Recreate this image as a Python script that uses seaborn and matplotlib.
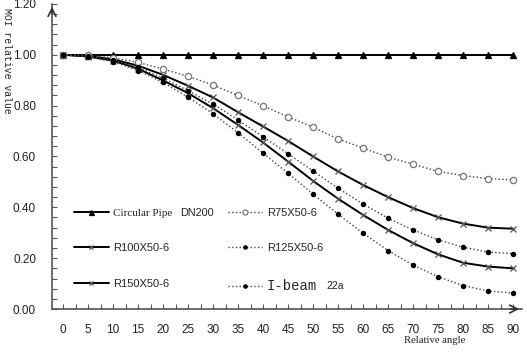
import matplotlib

matplotlib.use("Agg")

import matplotlib.pyplot as plt
import numpy as np
import pandas as pd
import seaborn as sns
from matplotlib.ticker import MultipleLocator


angles = [0, 5, 10, 15, 20, 25, 30, 35, 40, 45, 50, 55, 60, 65, 70, 75, 80, 85, 90]

circular_dn200 = [1.0] * 19
r75 = [1.0, 0.998, 0.988, 0.970, 0.944, 0.915, 0.881, 0.840, 0.799, 0.756, 0.715,
       0.669, 0.633, 0.597, 0.570, 0.541, 0.525, 0.513, 0.508]
r100 = [1.0, 0.995, 0.982, 0.957, 0.921, 0.878, 0.832, 0.774, 0.718, 0.661, 0.600,
        0.541, 0.488, 0.440, 0.397, 0.361, 0.336, 0.320, 0.316]
r125 = [1.0, 0.994, 0.979, 0.950, 0.908, 0.859, 0.806, 0.744, 0.677, 0.611, 0.543,
        0.475, 0.413, 0.357, 0.311, 0.272, 0.243, 0.224, 0.218]
r150 = [1.0, 0.993, 0.977, 0.945, 0.899, 0.849, 0.790, 0.724, 0.655, 0.580, 0.504,
        0.434, 0.370, 0.311, 0.259, 0.215, 0.182, 0.167, 0.160]
ibeam = [1.0, 0.992, 0.973, 0.938, 0.891, 0.833, 0.768, 0.693, 0.613, 0.534, 0.452,
         0.373, 0.298, 0.230, 0.173, 0.127, 0.092, 0.071, 0.063]

y_ticks = [0.0, 0.2, 0.4, 0.6, 0.8, 1.0, 1.2]

# legend fills column by column, so this order gives the 2x3 layout
series = [
    ("Circular Pipe", circular_dn200, "-", "^", "black", "black", 4.5),
    ("R100X50-6", r100, "-", "x", "#555555", "#555555", 4),
    ("R150X50-6", r150, "-", "x", "#555555", "#555555", 4),
    ("R75X50-6", r75, ":", "o", "#777777", "white", 4.5),
    ("R125X50-6", r125, ":", "o", "black", "black", 3),
    ("I-beam", ibeam, ":", "o", "black", "black", 3),
]

sns.set_style("white")
plt.rcParams["font.family"] = ["Liberation Sans", "DejaVu Sans"]

fig = plt.figure(figsize=(5.27, 3.54), dpi=100)
ax = fig.add_axes([0.0987, 0.127, 0.892, 0.862])

for name, values, ls, marker, mec, mfc, ms in series:
    df = pd.DataFrame({"angle": angles, "value": values})
    line_color = "black" if ls == "-" else "#444444"
    sns.lineplot(
        data=df, x="angle", y="value", ax=ax, label=name,
        color=line_color, linestyle=ls, linewidth=1.4 if ls == "-" else 1.0,
        marker=marker, markersize=ms, markeredgecolor=mec,
        markerfacecolor=mfc, markeredgewidth=0.9, clip_on=False,
    )

ax.set_xlim(-2.2, 91.8)
ax.set_ylim(0, 1.2)
ax.xaxis.set_minor_locator(MultipleLocator(2.5))
ax.yaxis.set_minor_locator(MultipleLocator(0.04))
ax.set_yticks(y_ticks)
ax.set_yticklabels([f"{v:.2f}" for v in y_ticks])
ax.set_xticks(angles)
ax.set_xticklabels([str(a) for a in angles])
ax.tick_params(which="both", direction="in", length=3.5, width=0.8,
               color="#555555", labelsize=8.5, labelcolor="#222222")
ax.tick_params(axis="x", which="both", pad=10.5, bottom=True)
ax.tick_params(axis="y", which="both", pad=11.5, left=True)

for side in ["top", "right"]:
    ax.spines[side].set_visible(False)
for side in ["left", "bottom"]:
    ax.spines[side].set_color("#555555")
    ax.spines[side].set_linewidth(1.2)

# arrow heads on the axes
ax.annotate("", xy=(1.0, 0), xycoords="axes fraction", xytext=(0.97, 0),
            arrowprops=dict(arrowstyle="->", color="#333333", lw=1.2,
                            mutation_scale=14))
ax.annotate("", xy=(0, 1.0), xycoords="axes fraction", xytext=(0, 0.96),
            arrowprops=dict(arrowstyle="->", color="#333333", lw=1.2,
                            mutation_scale=14))

ax.set_xlabel("")
ax.set_ylabel("")
fig.text(0.014, 0.977, "MOI relative value", rotation=-90, va="top",
         ha="center", fontsize=7, family="Liberation Mono", color="#222222")
fig.text(0.825, 0.037, "Relative angle", ha="center", va="center",
         fontsize=7.7, family="Liberation Serif", color="#222222")

leg = ax.legend(
    loc="lower left", bbox_to_anchor=(0.026, 0.02), ncol=2, frameon=False,
    fontsize=8, handlelength=3.1, labelspacing=2.3, columnspacing=5.0,
    handletextpad=0.4, markerscale=0.8,
)
texts = leg.get_texts()
texts[0].set_family("Liberation Serif")
texts[5].set_family("Liberation Mono")
texts[5].set_fontsize(10)

# second half of two labels is set in another font, placed after the first part
fig.canvas.draw()
inv = fig.transFigure.inverted()
for idx, extra, size, gap in [(0, "DN200", 7.8, 8), (5, "22a", 7.5, 9)]:
    bb = texts[idx].get_window_extent()
    x0, y0 = inv.transform((bb.x1 + gap, (bb.y0 + bb.y1) / 2))
    fig.text(x0, y0, extra, ha="left", va="center", fontsize=size,
             color="#222222")

plt.savefig("out.png", dpi=100)
plt.close()
